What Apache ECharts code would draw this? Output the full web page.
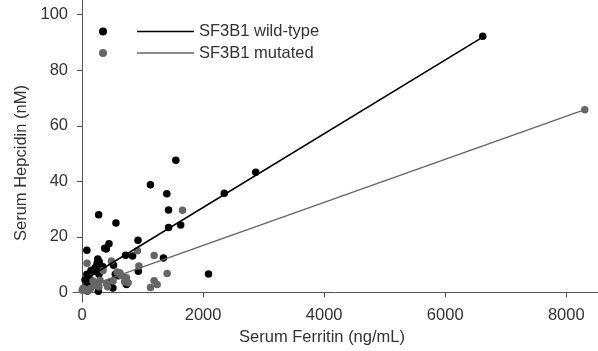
<!DOCTYPE html>
<html>
<head>
<meta charset="utf-8">
<script src="https://cdn.jsdelivr.net/npm/echarts@6/dist/echarts.min.js"></script>
<style>
html,body{margin:0;padding:0;background:#fff;}
#chart{width:598px;height:351px;}
</style>
</head>
<body>
<div id="chart"></div>
<script>
// Data
var seriesNames = ['SF3B1 wild-type', 'SF3B1 mutated'];
var xTicks = [0, 2000, 4000, 6000, 8000];
var yTicks = [0, 20, 40, 60, 80, 100];

var wildTypePoints = [
  [6620, 92.2], [2870, 43.3], [2350, 35.7], [1550, 47.6], [1130, 38.8],
  [1400, 35.5], [1430, 29.7], [1430, 23.4], [1630, 24.3], [275, 28.0],
  [560, 25.0], [925, 18.8], [445, 17.5], [375, 15.9], [400, 15.6],
  [80, 15.2], [720, 13.4], [835, 13.1], [1345, 12.4], [260, 12.0],
  [2090, 6.6], [930, 7.6], [735, 2.8], [720, 5.2], [510, 1.6], [270, 0.4],
  [30, 1.0], [60, 2.0], [50, 4.5], [80, 6.5], [120, 5.0], [150, 8.0],
  [190, 7.5], [220, 9.0], [250, 10.5], [300, 9.5], [330, 8.0], [280, 6.5],
  [200, 3.5], [120, 2.5], [90, 0.5], [520, 9.8], [480, 3.8], [550, 6.5],
  [600, 6.0], [285, 11.0], [345, 9.2], [160, 4.0], [240, 8.5], [105, 3.0]
];

var mutatedPoints = [
  [8306, 65.8], [1660, 29.6], [915, 15.0], [1191, 13.3], [940, 9.5],
  [1406, 6.8], [1131, 1.8], [1191, 4.2], [1241, 2.8], [83, 10.5],
  [486, 11.3], [347, 7.9], [624, 7.1], [734, 5.3], [182, 4.1],
  [265, 2.3], [403, 3.2], [17, 1.5], [99, 0.6], [513, 4.1], [761, 3.5],
  [580, 7.3], [643, 6.1], [705, 3.8], [297, 4.4], [204, 2.6], [141, 1.4],
  [279, 2.0], [423, 2.0], [3, 0.8]
];

var wildTypeFit = [[60, 4.8], [6640, 92.2]];
var mutatedFit = [[30, 1.6], [8306, 65.8]];

var FONT = "'Liberation Sans', Arial, sans-serif";
var TXT = '#333';
var AX = '#555';

var chart = echarts.init(document.getElementById('chart'), null, {renderer: 'canvas'});
chart.setOption({
  animation: false,
  backgroundColor: '#fff',
  grid: {left: 73, right: 0, top: 0, bottom: 43, containLabel: false},
  legend: [
    {
      data: ['wt-points', 'mut-points'],
      orient: 'vertical', left: 94, top: 18, itemGap: 4.5,
      itemWidth: 8, itemHeight: 8, icon: 'circle',
      selectedMode: false,
      formatter: function () { return ' '; },
      textStyle: {fontFamily: FONT, fontSize: 16.5, color: TXT}
    },
    {
      data: seriesNames,
      orient: 'vertical', left: 132, top: 18, itemGap: 4.5,
      itemWidth: 57, itemHeight: 1.5, icon: 'rect',
      selectedMode: false,
      textStyle: {fontFamily: FONT, fontSize: 16.5, color: TXT}
    }
  ],
  xAxis: {
    type: 'value', min: -149, max: 8524,
    name: 'Serum Ferritin (ng/mL)', nameLocation: 'middle', nameGap: 26,
    nameTextStyle: {fontFamily: FONT, fontSize: 16.5, color: TXT, padding: [0, 27, 0, 0]},
    axisLine: {show: true, lineStyle: {color: AX, width: 1}},
    axisTick: {show: true, length: 5, lineStyle: {color: AX}, customValues: xTicks},
    axisLabel: {
      fontFamily: FONT, fontSize: 16.5, color: TXT, margin: 5, customValues: xTicks,
      formatter: function (v) { return String(v); }
    },
    splitLine: {show: false}
  },
  yAxis: {
    type: 'value', min: -3.5, max: 105.3,
    name: 'Serum Hepcidin (nM)', nameLocation: 'middle', nameGap: 37,
    nameTextStyle: {fontFamily: FONT, fontSize: 16.5, color: TXT, padding: [0, 24, 0, 0]},
    axisLine: {show: true, lineStyle: {color: AX, width: 1}},
    axisTick: {show: true, length: 5, lineStyle: {color: AX}, customValues: yTicks},
    axisLabel: {
      fontFamily: FONT, fontSize: 16.5, color: TXT, margin: 5, customValues: yTicks,
      formatter: function (v) { return String(v); }
    },
    splitLine: {show: false}
  },
  series: [
    {
      name: 'wt-points', type: 'scatter', data: wildTypePoints,
      symbol: 'circle', symbolSize: 7.5,
      itemStyle: {color: '#000', opacity: 1}, z: 2
    },
    {
      name: 'mut-points', type: 'scatter', data: mutatedPoints,
      symbol: 'circle', symbolSize: 7.5,
      itemStyle: {color: '#666', opacity: 1}, z: 3
    },
    {
      name: seriesNames[0], type: 'line', data: wildTypeFit,
      symbol: 'none', lineStyle: {color: '#000', width: 1.6},
      itemStyle: {color: '#000'}, z: 4
    },
    {
      name: seriesNames[1], type: 'line', data: mutatedFit,
      symbol: 'none', lineStyle: {color: '#666', width: 1.4},
      itemStyle: {color: '#666'}, z: 4
    }
  ]
});
</script>
</body>
</html>
